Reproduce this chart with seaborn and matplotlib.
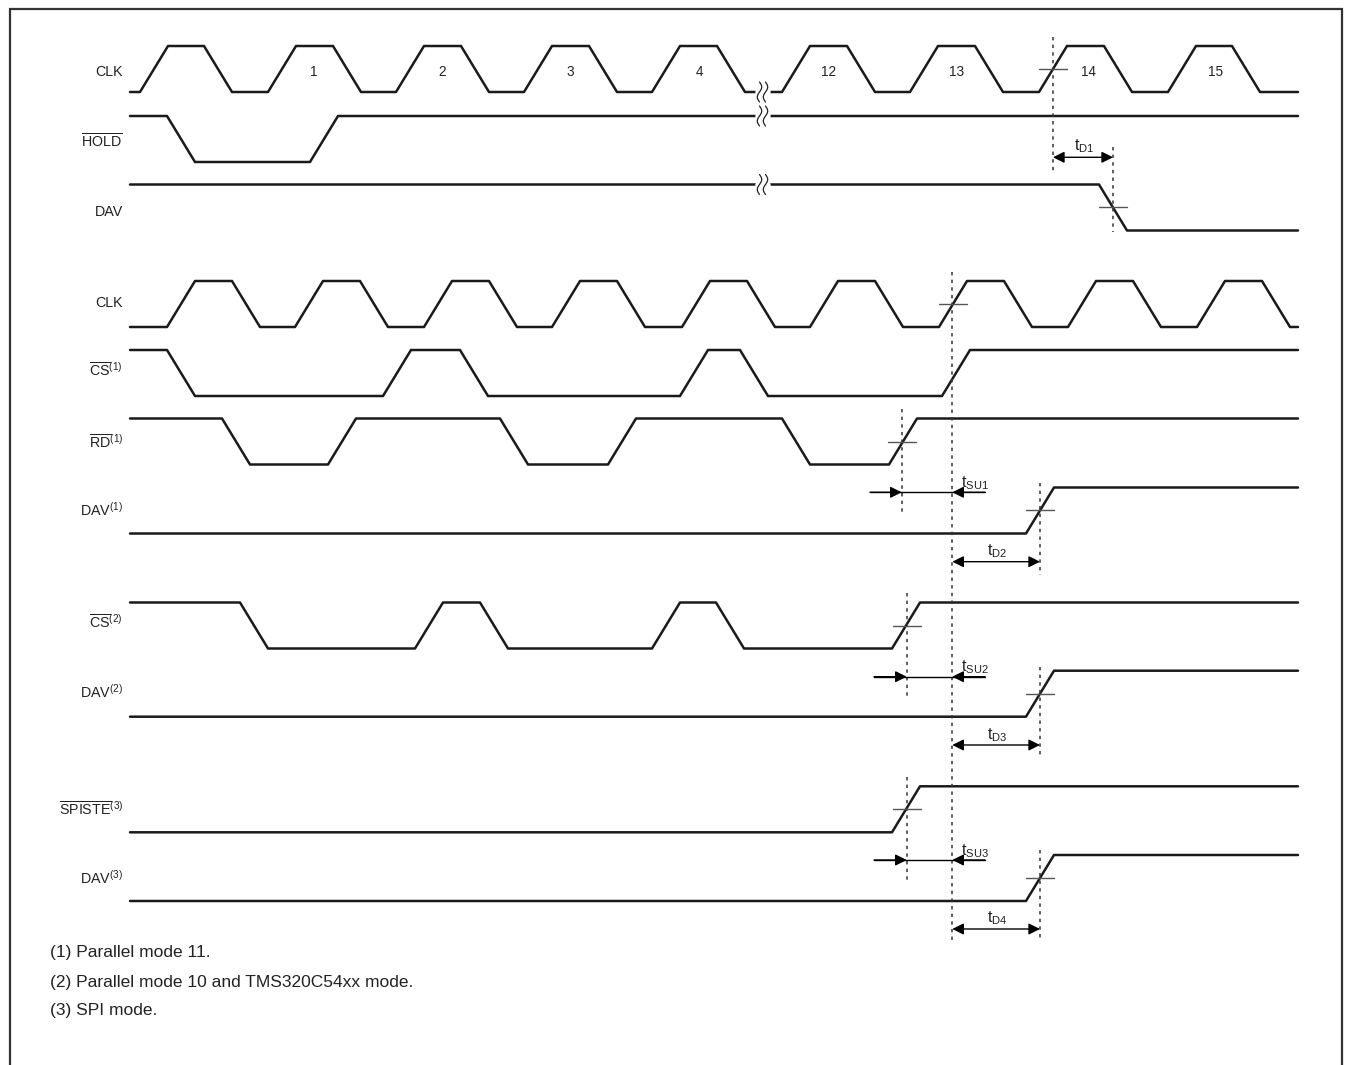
import numpy as np
import matplotlib
matplotlib.use("Agg")
import matplotlib.pyplot as plt
import seaborn as sns

# ---- waveform data: initial level + edge start times (x in px along time axis)
SLEW = 28
X_START, X_END = 130, 1298

clk_a_edges = [140, 204, 268, 333, 396, 461, 524, 589, 652, 717,
               782, 847, 910, 975, 1039, 1104, 1168, 1232]
hold_edges = [167, 310]
dav_a_edges = [1099]

clk_b_edges = [167, 232, 295, 360, 424, 489, 552, 617, 682, 747,
               810, 875, 939, 1004, 1068, 1133, 1197, 1262]
cs1_edges = [167, 383, 460, 680, 740, 942]
rd1_edges = [222, 328, 500, 608, 782, 889]
dav1_edges = [1026]

cs2_edges = [240, 415, 480, 652, 716, 892]
dav2_edges = [1026]

spiste_edges = [892]
dav3_edges = [1026]

# name, label, initial level, edges, low-level y
signals = [
    ("clk_a", r"CLK", 0, clk_a_edges, 92),
    ("hold", r"$\overline{\mathrm{HOLD}}$", 1, hold_edges, 162),
    ("dav_a", r"DAV", 1, dav_a_edges, 230.5),
    ("clk_b", r"CLK", 0, clk_b_edges, 327),
    ("cs1", r"$\overline{\mathrm{CS}}^{(1)}$", 1, cs1_edges, 396),
    ("rd1", r"$\overline{\mathrm{RD}}^{(1)}$", 1, rd1_edges, 464.5),
    ("dav1", r"$\mathrm{DAV}^{(1)}$", 0, dav1_edges, 533.5),
    ("cs2", r"$\overline{\mathrm{CS}}^{(2)}$", 1, cs2_edges, 648.5),
    ("dav2", r"$\mathrm{DAV}^{(2)}$", 0, dav2_edges, 716.7),
    ("spiste", r"$\overline{\mathrm{SPISTE}}^{(3)}$", 0, spiste_edges, 832.3),
    ("dav3", r"$\mathrm{DAV}^{(3)}$", 0, dav3_edges, 901),
]
label_y = [72, 142, 212, 303, 370, 442, 510, 622, 692, 809, 878]

cycle_numbers = ["1", "2", "3", "4", "12", "13", "14", "15"]
cycle_x = [314, 442, 570, 699, 828, 957, 1089, 1216]

footnotes = ["(1) Parallel mode 11.",
             "(2) Parallel mode 10 and TMS320C54xx mode.",
             "(3) SPI mode."]

AMP = 46


def waveform(init, edges):
    xs, lv = [X_START], [init]
    level = init
    for e in edges:
        xs += [e, e + SLEW]
        lv += [level, 1 - level]
        level = 1 - level
    xs.append(X_END)
    lv.append(level)
    return np.array(xs, float), np.array(lv, float)


sns.set_theme(style="white")
plt.rcParams["font.family"] = ["Liberation Sans", "DejaVu Sans"]
plt.rcParams["mathtext.fontset"] = "custom"
plt.rcParams["mathtext.rm"] = "Liberation Sans"
plt.rcParams["mathtext.it"] = "Liberation Sans:italic"
plt.rcParams["mathtext.bf"] = "Liberation Sans:bold"

fig = plt.figure(figsize=(13.48, 10.65), dpi=100)
ax = fig.add_axes([0, 0, 1, 1])
ax.set_xlim(0, 1348)
ax.set_ylim(1065, 0)
ax.set_axis_off()

for (name, lab, init, edges, ylow), ly in zip(signals, label_y):
    xs, lv = waveform(init, edges)
    sns.lineplot(x=xs, y=ylow - lv * AMP, sort=False, estimator=None,
                 color="#1a1a1a", lw=1.8, ax=ax)
    ax.text(123, ly, lab, ha="right", va="center", fontsize=10.3, color="#222")

for n, x in zip(cycle_numbers, cycle_x):
    ax.text(x, 72, n, ha="center", va="center", fontsize=9.8, color="#222")

# break marks on the top three rows
t = np.linspace(-1, 1, 30)
for yb in [92, 116, 184.5]:
    ax.plot([758, 768], [yb, yb], color="white", lw=4, zorder=3)
    for xc in [759.5, 765.5]:
        ax.plot(xc + 2.2 * np.sin(np.pi * t), yb - 10 * t, color="#222",
                lw=0.9, zorder=4)

# dotted reference lines
vlines = [(1053, 37, 172), (1113, 147, 232), (952.3, 272, 940),
          (901.7, 409, 515), (1040, 483, 575), (906.7, 593, 698),
          (1040, 667, 757), (906.7, 777, 883), (1040, 850, 940)]
for x, y0, y1 in vlines:
    ax.plot([x, x], [y0, y1], color="#333", lw=1.1, ls=(0, (2.2, 2.8)))

# crossing ticks
ticks = [(1053, 69.3), (1113, 207.3), (953, 304), (902, 442), (1040, 510),
         (907, 626), (1040, 694), (907, 809), (1040, 878)]
for x, y in ticks:
    ax.plot([x - 14, x + 14], [y, y], color="#555", lw=1.0)

aprops = dict(color="black", lw=1.0, shrinkA=0, shrinkB=0, mutation_scale=17)

# double-headed delay arrows
for x0, x1, y, lab, lx, lyy in [(1053, 1113, 157.3, r"$\mathrm{t}_{\mathrm{D1}}$", 1084, 146),
                                (952.3, 1040, 561.7, r"$\mathrm{t}_{\mathrm{D2}}$", 997, 551),
                                (952.3, 1040, 745, r"$\mathrm{t}_{\mathrm{D3}}$", 997, 735),
                                (952.3, 1040, 929, r"$\mathrm{t}_{\mathrm{D4}}$", 997, 918)]:
    ax.annotate("", xy=(x1, y), xytext=(x0, y),
                arrowprops=dict(arrowstyle="<|-|>", **aprops))
    ax.text(lx, lyy, lab, ha="center", va="center", fontsize=11.5, color="#222")

# setup arrows
for xl, xa, xb, xr, y, lab, lyy in [(870, 901.7, 952.3, 985, 492.3, r"$\mathrm{t}_{\mathrm{SU1}}$", 483),
                                    (874, 906.7, 952.3, 985, 676.7, r"$\mathrm{t}_{\mathrm{SU2}}$", 667),
                                    (874, 906.7, 952.3, 985, 860, r"$\mathrm{t}_{\mathrm{SU3}}$", 851)]:
    ax.plot([xl, xr], [y, y], color="black", lw=1.0)
    ax.annotate("", xy=(xa, y), xytext=(xl, y), arrowprops=dict(arrowstyle="-|>", **aprops))
    ax.annotate("", xy=(xb, y), xytext=(xr, y), arrowprops=dict(arrowstyle="-|>", **aprops))
    ax.text(961, lyy, lab, ha="left", va="center", fontsize=11.5, color="#222")

for i, s in enumerate(footnotes):
    ax.text(50, 953 + 29 * i, s, ha="left", va="center", fontsize=12.5, color="#222")

# frame (open at the bottom)
ax.plot([10, 10, 1342, 1342], [1065, 8.5, 8.5, 1065], color="#333", lw=1.6,
        solid_joinstyle="miter")

fig.savefig("out.png", dpi=100)
